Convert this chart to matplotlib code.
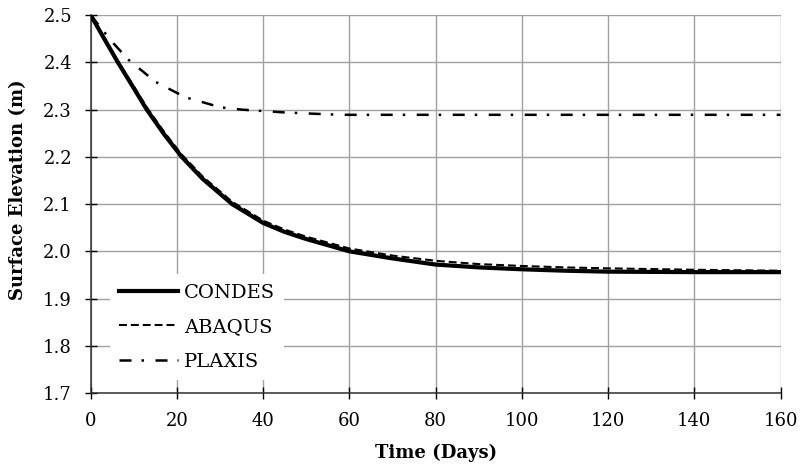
import numpy as np
import matplotlib.pyplot as plt

# data
t_condes = [0, 3, 6.3, 10, 13, 17, 21.1, 26, 32.8, 40, 45, 50, 60, 70, 80, 90, 100, 110, 120, 140, 160]
z_condes = [2.5, 2.452, 2.4, 2.345, 2.3, 2.248, 2.2, 2.153, 2.1, 2.06, 2.041, 2.026, 2.0, 1.985, 1.972, 1.966, 1.962, 1.959, 1.957, 1.956, 1.956]

t_abaqus = [0, 3, 6.3, 10, 13, 17, 21.1, 26, 32.8, 40, 45, 50, 60, 70, 80, 90, 100, 110, 120, 140, 160]
z_abaqus = [2.5, 2.454, 2.403, 2.349, 2.305, 2.253, 2.205, 2.158, 2.105, 2.065, 2.046, 2.031, 2.006, 1.991, 1.98, 1.973, 1.969, 1.966, 1.964, 1.961, 1.959]

t_plaxis = [0, 4.9, 8.7, 15, 19, 22, 27, 30, 35, 45, 55, 60, 80, 100, 120, 140, 160]
z_plaxis = [2.5, 2.444, 2.406, 2.359, 2.34, 2.326, 2.313, 2.305, 2.3, 2.294, 2.29, 2.289, 2.289, 2.289, 2.289, 2.289, 2.289]

xticks = np.arange(0, 161, 20)
yticks = np.arange(1.7, 2.51, 0.1)

plt.rcParams['font.family'] = ['DejaVu Serif']

fig = plt.figure(figsize=(8.03, 4.73), dpi=100)
ax = fig.add_axes([0.113, 0.169, 0.859, 0.799])

ax.plot(t_condes, z_condes, color='black', lw=3.0, ls='-', label='CONDES', zorder=4)
ax.plot(t_abaqus, z_abaqus, color='black', lw=1.5, ls=(0, (3.8, 1.9)), label='ABAQUS', zorder=3)
ax.plot(t_plaxis, z_plaxis, color='black', lw=1.8, ls=(0, (4.8, 4.0, 1.0, 4.6)), label='PLAXIS', zorder=3)

ax.set_xlim(0, 160)
ax.set_ylim(1.7, 2.5)
ax.set_xticks(xticks)
ax.set_yticks(yticks)
ax.set_yticklabels(['%.1f' % v for v in yticks])
ax.grid(True, color='#a0a0a0', lw=1.0)
ax.set_axisbelow(True)
ax.tick_params(direction='inout', length=9, width=1, labelsize=13, pad=9)
for s in ['top', 'right']:
    ax.spines[s].set_visible(False)
for s in ['left', 'bottom']:
    ax.spines[s].set_linewidth(1.1)
    ax.spines[s].set_color('#303030')

ax.set_xlabel('Time (Days)', fontsize=13, fontweight='bold')
ax.set_ylabel('Surface Elevation (m)', fontsize=13, fontweight='bold')
ax.xaxis.set_label_coords(0.5, -0.135)
ax.yaxis.set_label_coords(-0.092, 0.537)

leg = ax.legend(loc='upper left', bbox_to_anchor=(0.0135, 0.341), fontsize=14,
                frameon=True, facecolor='white', edgecolor='none', framealpha=1,
                handlelength=3.0, handletextpad=0.3, labelspacing=0.85, borderpad=0.5)
leg.get_frame().set_boxstyle('square', pad=0)

fig.savefig('out.png', dpi=100)
